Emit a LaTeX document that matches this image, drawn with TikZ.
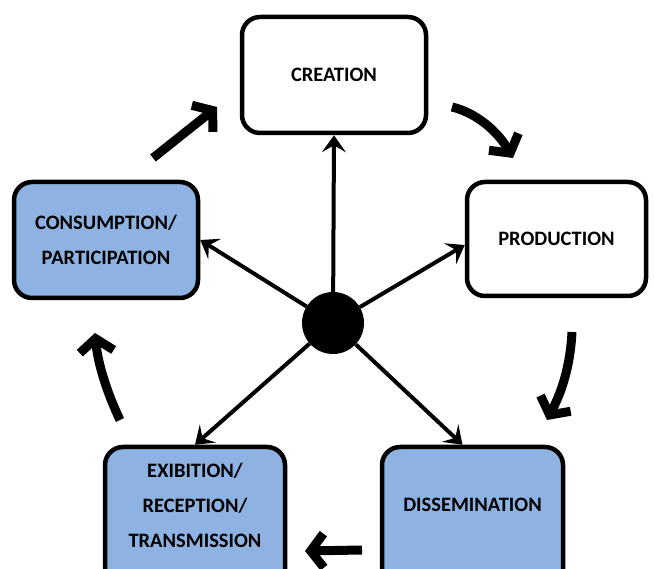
\documentclass[tikz,border=0pt]{standalone}
\usepackage{fontspec}
\setmainfont{Carlito}
\usetikzlibrary{arrows.meta}
\definecolor{boxblue}{RGB}{142,179,226}
\begin{document}
\begin{tikzpicture}[x=1pt,y=-1pt,
  box/.style={draw=black, line width=4.5pt, rounded corners=18pt, fill=white, inner sep=0pt},
  bluebox/.style={box, fill=boxblue},
  lbl/.style={font=\bfseries\fontsize{20.5}{35}\selectfont, align=center, inner sep=0pt},
  spoke/.style={line width=4pt, -{Stealth[length=17pt,width=24pt,inset=7pt]}},
  cyc/.style={line width=9pt, -{Straight Barb[length=13pt,width=34pt]}}]
\useasboundingbox (0,0) rectangle (654,569);
\clip (0,0) rectangle (654,569);
% boxes
\node[box, minimum width=184pt, minimum height=116pt, lbl] (crea) at (334,75) {CREATION};
\node[box, minimum width=179pt, minimum height=114pt, lbl] (prod) at (556.5,239) {PRODUCTION};
\node[bluebox, minimum width=184pt, minimum height=116pt, lbl] (cons) at (106,240) {CONSUMPTION/\\PARTICIPATION};
\node[bluebox, minimum width=180pt, minimum height=150pt] (exib) at (195,522) {};
\node[lbl] (exibt) at (195,505) {EXIBITION/\\RECEPTION/\\TRANSMISSION};
\node[bluebox, minimum width=181pt, minimum height=150pt] (diss) at (472.5,522) {};
\node[lbl] (disst) at (472.5,505) {DISSEMINATION};
% hub
\node[circle, fill=black, minimum size=62pt, inner sep=0pt] (hub) at (333,323) {};
% spokes
\draw[spoke] (hub) -- (crea.south);
\draw[spoke] (hub) -- ([yshift=-6pt]prod.west);
\draw[spoke] (hub) -- (cons.east);
\draw[spoke] (hub) -- (exib.north);
\draw[spoke] (hub) -- ([xshift=-10pt]diss.north);
% cycle arrows
\coordinate (a1s) at (153,158); \coordinate (a1e) at (217,107);
\coordinate (a2s) at (452,107); \coordinate (a2e) at (513,158);
\coordinate (a3s) at (572,332); \coordinate (a3e) at (547,420);
\coordinate (a4s) at (362,550); \coordinate (a4e) at (305,551);
\coordinate (a5s) at (120,420); \coordinate (a5e) at (95,333);
\draw[cyc] (a1s) -- (a1e);
\draw[cyc] (a2s) .. controls (477,113) and (498,132) .. (a2e);
\draw[cyc] (a3s) .. controls (570,370) and (560,395) .. (a3e);
\draw[cyc] (a4s) -- (a4e);
\draw[cyc] (a5s) .. controls (108,395) and (98,365) .. (a5e);
\end{tikzpicture}
\end{document}
